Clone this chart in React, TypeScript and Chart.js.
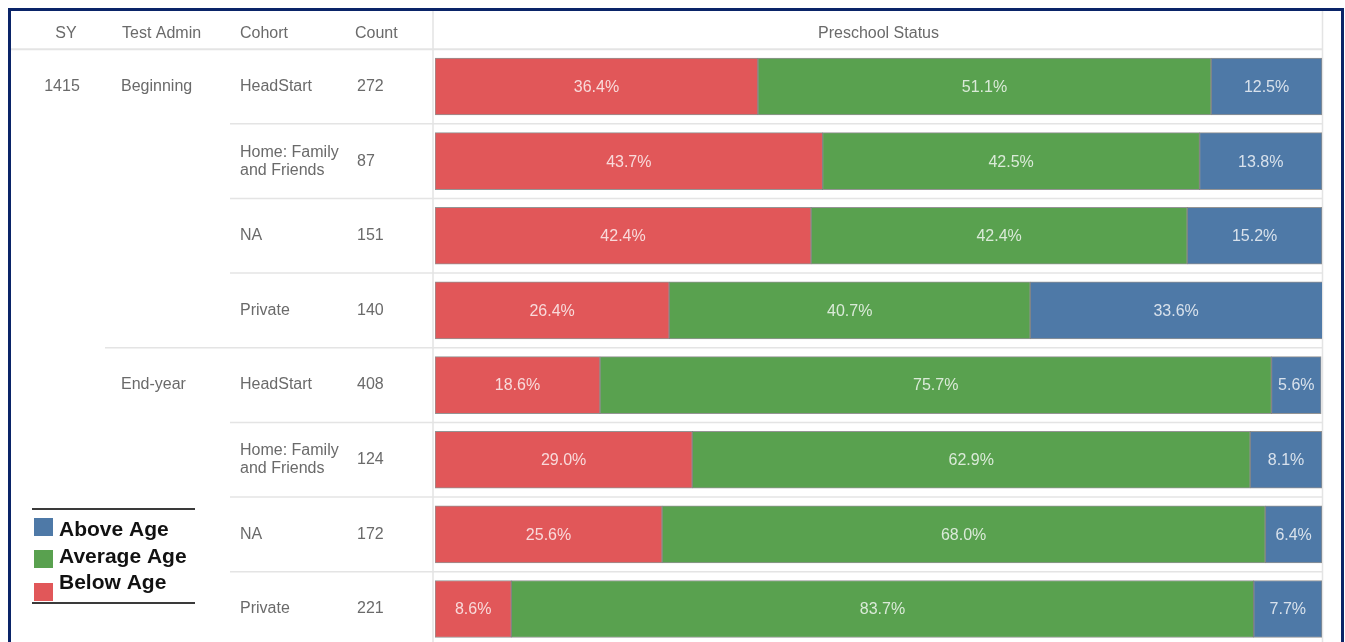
import React, { useEffect, useRef } from 'react';
import { Chart, registerables } from 'chart.js';

Chart.register(...registerables);

// ---- data ----
const syValues = ['1415', '1415', '1415', '1415', '1415', '1415', '1415', '1415'];
const testAdmin = ['Beginning', 'Beginning', 'Beginning', 'Beginning', 'End-year', 'End-year', 'End-year', 'End-year'];
const cohorts = ['HeadStart', 'Home: Family\nand Friends', 'NA', 'Private', 'HeadStart', 'Home: Family\nand Friends', 'NA', 'Private'];
const counts = [272, 87, 151, 140, 408, 124, 172, 221];
const belowAge = [36.4, 43.7, 42.4, 26.4, 18.6, 29.0, 25.6, 8.6];
const averageAge = [51.1, 42.5, 42.4, 40.7, 75.7, 62.9, 68.0, 83.7];
const aboveAge = [12.5, 13.8, 15.2, 33.6, 5.6, 8.1, 6.4, 7.7];
const headers = ['SY', 'Test Admin', 'Cohort', 'Count', 'Preschool Status'];
const seriesNames = ['Below Age', 'Average Age', 'Above Age'];

// ---- styles ----
const RED = '#e15759';
const GREEN = '#59a14f';
const BLUE = '#4e79a7';
const TEXT = '#6a6a6a';
const LINE = '#e4e4e4';
const FONT = '"Liberation Sans", Arial, sans-serif';

const COL_SY = 51;
const COL_SY_HEAD = 55;
const COL_ADMIN = 110;
const COL_COHORT = 229;
const COL_COUNT = 346;
const COL_COUNT_HEAD = 344;

const tablePlugin = {
  id: 'tablePlugin',
  beforeDatasetsDraw(chart: any) {
    const ctx = chart.ctx as CanvasRenderingContext2D;
    const area = chart.chartArea;
    const yScale = chart.scales.y;
    ctx.save();
    ctx.strokeStyle = LINE;
    ctx.lineWidth = 2;
    ctx.beginPath();
    ctx.moveTo(0, area.top);
    ctx.lineTo(area.right, area.top);
    ctx.stroke();
    for (let i = 0; i < cohorts.length - 1; i++) {
      const y = (yScale.getPixelForValue(i) + yScale.getPixelForValue(i + 1)) / 2;
      const startX = testAdmin[i] !== testAdmin[i + 1] ? COL_ADMIN - 16 : COL_COHORT - 10;
      ctx.lineWidth = 1.5;
      ctx.beginPath();
      ctx.moveTo(startX, y);
      ctx.lineTo(area.right, y);
      ctx.stroke();
    }
    ctx.lineWidth = 1.5;
    ctx.beginPath();
    ctx.moveTo(area.left - 2, 0);
    ctx.lineTo(area.left - 2, chart.height);
    ctx.moveTo(area.right + 0.5, 0);
    ctx.lineTo(area.right + 0.5, chart.height);
    ctx.stroke();
    ctx.restore();
  },
  afterDatasetsDraw(chart: any) {
    const ctx = chart.ctx as CanvasRenderingContext2D;
    const area = chart.chartArea;
    const yScale = chart.scales.y;
    ctx.save();
    ctx.font = `16px ${FONT}`;
    ctx.textAlign = 'center';
    ctx.textBaseline = 'middle';
    ctx.fillStyle = 'rgba(255,255,255,0.78)';
    chart.data.datasets.forEach((ds: any, di: number) => {
      const meta = chart.getDatasetMeta(di);
      meta.data.forEach((bar: any, i: number) => {
        const p = bar.getProps(['x', 'base', 'y'], true);
        const l = Math.max(Math.min(p.x, p.base), area.left);
        const r = Math.min(Math.max(p.x, p.base), area.right);
        ctx.fillText(Number(ds.data[i]).toFixed(1) + '%', (l + r) / 2, p.y + 1);
      });
    });

    ctx.fillStyle = TEXT;
    ctx.font = `16px ${FONT}`;
    const hy = area.top / 2 + 3;
    ctx.textAlign = 'center';
    ctx.fillText(headers[0], COL_SY_HEAD, hy);
    ctx.fillText(headers[4], (area.left + area.right) / 2, hy);
    ctx.textAlign = 'left';
    ctx.fillText(headers[1], COL_ADMIN + 1, hy);
    ctx.fillText(headers[2], COL_COHORT, hy);
    ctx.fillText(headers[3], COL_COUNT_HEAD, hy);

    for (let i = 0; i < cohorts.length; i++) {
      const y = yScale.getPixelForValue(i);
      if (i === 0 || syValues[i] !== syValues[i - 1]) {
        ctx.textAlign = 'center';
        ctx.fillText(syValues[i], COL_SY, y);
      }
      ctx.textAlign = 'left';
      if (i === 0 || testAdmin[i] !== testAdmin[i - 1]) {
        ctx.fillText(testAdmin[i], COL_ADMIN, y);
      }
      const lines = cohorts[i].split('\n');
      lines.forEach((ln, k) => {
        ctx.fillText(ln, COL_COHORT, y + (k - (lines.length - 1) / 2) * 18);
      });
      ctx.fillText(String(counts[i]), COL_COUNT, y);
    }
    ctx.restore();
  },
  afterDraw(chart: any) {
    const ctx = chart.ctx as CanvasRenderingContext2D;
    ctx.save();
    ctx.strokeStyle = '#3a3a3a';
    ctx.lineWidth = 2;
    ctx.beginPath();
    ctx.moveTo(21, 498);
    ctx.lineTo(184, 498);
    ctx.moveTo(21, 592);
    ctx.lineTo(184, 592);
    ctx.stroke();
    const colors = [BLUE, GREEN, RED];
    const names = [seriesNames[2], seriesNames[1], seriesNames[0]];
    const squareY = [507, 539, 572];
    const textBase = [525, 552, 578];
    ctx.font = `bold 21px ${FONT}`;
    ctx.textAlign = 'left';
    ctx.textBaseline = 'alphabetic';
    for (let k = 0; k < 3; k++) {
      ctx.fillStyle = colors[k];
      ctx.fillRect(23, squareY[k], 19, 18);
      ctx.fillStyle = '#111';
      ctx.fillText(names[k], 48, textBase[k]);
    }
    ctx.restore();
  },
};

export default function App() {
  const ref = useRef<HTMLCanvasElement>(null);
  useEffect(() => {
    if (!ref.current) return;
    const common = {
      borderColor: 'rgba(60,60,60,0.55)',
      borderWidth: 1,
      borderSkipped: false as const,
      barThickness: 57,
      clip: 0,
    };
    const chart = new Chart(ref.current, {
      type: 'bar',
      data: {
        labels: cohorts,
        datasets: [
          { label: seriesNames[0], data: belowAge, backgroundColor: RED, ...common },
          { label: seriesNames[1], data: averageAge, backgroundColor: GREEN, ...common },
          { label: seriesNames[2], data: aboveAge, backgroundColor: BLUE, ...common },
        ],
      },
      options: {
        indexAxis: 'y',
        responsive: false,
        animation: false,
        devicePixelRatio: 1,
        layout: { padding: { left: 424, right: 19, top: 38.2, bottom: 4.7 } },
        scales: {
          x: { stacked: true, min: 0, max: 100, display: false },
          y: { stacked: true, display: false, offset: true },
        },
        plugins: {
          legend: { display: false },
          tooltip: { enabled: false },
        },
      },
      plugins: [tablePlugin],
    } as any);
    return () => chart.destroy();
  }, []);

  return (
    <>
      <style>{'html,body{overflow:hidden;}'}</style>
      <div
        style={{
          position: 'fixed',
          left: 8,
          top: 8,
          width: 1330,
          height: 631,
          border: '3px solid #0a2468',
          borderBottom: 'none',
          overflow: 'hidden',
          background: '#fff',
        }}
      >
        <canvas ref={ref} width={1330} height={640} style={{ display: 'block' }} />
      </div>
    </>
  );
}
